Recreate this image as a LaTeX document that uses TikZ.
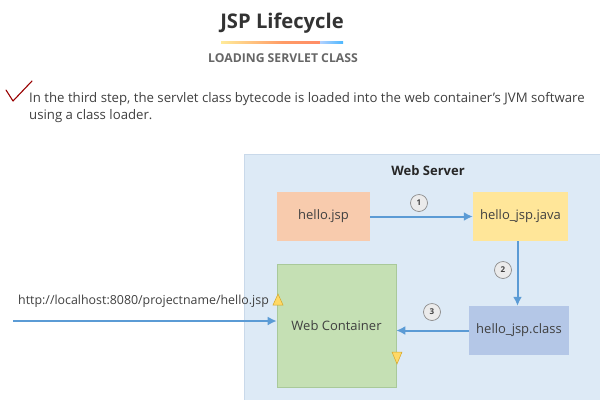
\documentclass[tikz,border=0pt]{standalone}
\usepackage{fontspec}
\setmainfont{Open Sans}
\usetikzlibrary{calc,arrows.meta}
\definecolor{ws}{HTML}{DDEAF6}
\definecolor{wsline}{HTML}{C9D9EA}
\definecolor{cjsp}{HTML}{F8CBAD}
\definecolor{cjava}{HTML}{FFE699}
\definecolor{ccls}{HTML}{B4C7E7}
\definecolor{cwc}{HTML}{C5E0B4}
\definecolor{cwcl}{HTML}{A9C99A}
\definecolor{arr}{HTML}{5B9BD5}
\definecolor{txt}{HTML}{404040}
\definecolor{tri}{HTML}{FFD966}
\definecolor{trid}{HTML}{D4A62A}
\tikzset{
  box/.style={draw=none, text=txt, font=\fontsize{13}{15}\selectfont, inner sep=0pt},
  flow/.style={draw=arr, line width=2pt, -{Latex[length=9pt,width=9pt]}},
  stepnum/.style={circle, draw=black!45, fill=black!8, line width=0.7pt, minimum size=17pt, inner sep=0pt, font=\fontsize{8}{8}\selectfont\bfseries, text=txt},
  trimark/.style={fill=tri, draw=trid, line width=0.5pt}
}
\begin{document}
\begin{tikzpicture}[x=1pt,y=-1pt]
\useasboundingbox (0,0) rectangle (600,400);
\fill[white] (0,0) rectangle (600,400);
% title
\node[font=\fontsize{20.2}{24}\selectfont\bfseries, text=black!80] (title) at (282,23) {JSP Lifecycle};
\shade[left color=yellow!60!orange!40, right color=orange!70!red!60] (221,41) rectangle (282,43);
\shade[left color=orange!70!red!60, right color=red!50!orange!60] (282,41) rectangle (320,43);
\shade[left color=cyan!40!blue!30, right color=cyan!60!blue!70] (320,41) rectangle (343,43);
\node[font=\fontsize{12.2}{14}\selectfont\bfseries, text=black!60] (sub) at (283,58) {LOADING SERVLET CLASS};
% check mark
\draw[draw=red!60!black, line width=1.1pt, line cap=round, line join=round] (6,90) -- (13,101) -- (32,81);
\node[anchor=north west, align=left, font=\fontsize{13.2}{17}\selectfont, text=txt, inner sep=0pt] (desc) at (29,92)
 {In the third step, the servlet class bytecode is loaded into the web container’s JVM software\\using a class loader.};
% web server
\fill[ws] (244,154) rectangle (600,400);
\draw[wsline, line width=0.8pt] (600,154) -- (244,154) -- (244,400);
\node[font=\fontsize{13}{15}\selectfont\bfseries, text=black!85] (wslabel) at (428,171) {Web Server};
% boxes
\node[box, fill=cjsp, minimum width=93pt, minimum height=49pt] (jsp) at (323.5,216.5) {hello.jsp};
\node[box, fill=cjava, minimum width=95pt, minimum height=49pt] (java) at (520.5,216.5) {hello\_jsp.java};
\node[box, fill=ccls, minimum width=100pt, minimum height=49pt] (cls) at (519,330.5) {hello\_jsp.class};
\node[box, fill=cwc, draw=cwcl, line width=0.6pt, minimum width=119pt, minimum height=123pt] (wc) at (336.5,325.5) {Web Container};
% arrows
\draw[flow] (jsp.east) -- (java.west);
\draw[flow] ($(java.south)+(-3,0)$) -- ($(java.south |- cls.north)+(-3,0)$);
\draw[flow] (cls.west) -- (wc.east |- cls.west);
\coordinate (start) at (13,321);
\draw[flow] (start) -- (wc.west |- start);
\node[anchor=south west, inner sep=0pt, font=\fontsize{12.4}{14}\selectfont, text=txt] (url) at (18,308) {http://localhost:8080/projectname/hello.jsp};
% step numbers
\node[stepnum] (n1) at (419,203) {1};
\node[stepnum] (n2) at (503,270) {2};
\node[stepnum] (n3) at (432,312) {3};
% triangles
\draw[trimark] (273,305) -- (283,305) -- (278,294) -- cycle;
\draw[trimark] (392,352) -- (402,352) -- (397,364) -- cycle;
\end{tikzpicture}
\end{document}
